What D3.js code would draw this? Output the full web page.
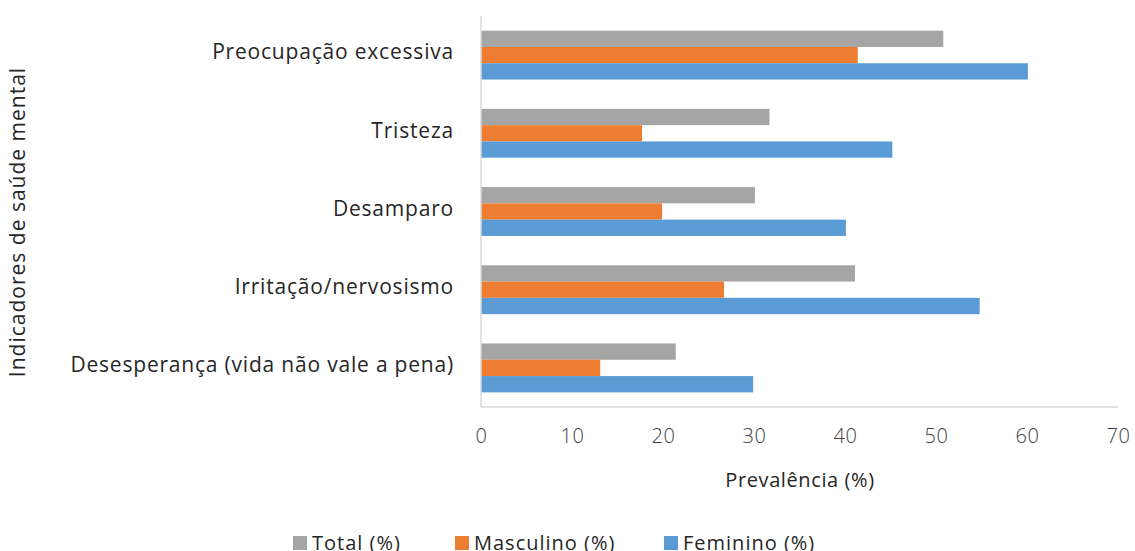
<!DOCTYPE html>
<html>
<head>
<meta charset="utf-8">
<script src="https://cdn.jsdelivr.net/npm/d3@7"></script>
<style>
  html, body { margin: 0; padding: 0; background: #fff; }
  svg { display: block; font-family: "Open Sans", "Lato", sans-serif; }
</style>
</head>
<body>
<svg id="chart" width="1135" height="551"></svg>
<script>
// Mental health indicators, prevalence by sex
const categories = [
  "Preocupação excessiva",
  "Tristeza",
  "Desamparo",
  "Irritação/nervosismo",
  "Desesperança (vida não vale a pena)"
];
const seriesNames = ["Total (%)", "Masculino (%)", "Feminino (%)"];
const totalValues     = [50.8, 31.7, 30.1, 41.1, 21.4];
const masculinoValues = [41.4, 17.7, 19.9, 26.7, 13.1];
const femininoValues  = [60.1, 45.2, 40.1, 54.8, 29.9];
const xTicks = [0, 10, 20, 30, 40, 50, 60, 70];
const colors = ["#A5A5A5", "#ED7D31", "#5B9BD5"];

const seriesValues = [totalValues, masculinoValues, femininoValues];
const rows = categories.map((c, i) => ({
  category: c,
  values: seriesValues.map((vals, s) => ({ series: seriesNames[s], value: vals[i], s }))
}));

const svg = d3.select("#chart");
const plot = { left: 481, right: 1118, top: 16, bottom: 407 };

const x = d3.scaleLinear().domain([0, 70]).range([plot.left, plot.right]);
const y = d3.scaleBand().domain(categories).range([plot.top, plot.bottom]).paddingInner(0.375).paddingOuter(0.1875);
const ySub = d3.scaleBand().domain(d3.range(seriesNames.length)).range([0, y.bandwidth()]);

// Bars
const groups = svg.append("g").selectAll("g")
  .data(rows).join("g")
  .attr("transform", d => `translate(0,${y(d.category)})`);
groups.selectAll("rect")
  .data(d => d.values).join("rect")
  .attr("x", x(0))
  .attr("y", d => ySub(d.s))
  .attr("height", ySub.bandwidth())
  .attr("width", d => x(d.value) - x(0))
  .attr("fill", d => colors[d.s]);

// Axis lines
svg.append("line")
  .attr("x1", x(0)).attr("x2", x(0))
  .attr("y1", plot.top).attr("y2", plot.bottom)
  .attr("stroke", "#D9D9D9").attr("stroke-width", 1.5);
svg.append("line")
  .attr("x1", x(0)).attr("x2", plot.right)
  .attr("y1", plot.bottom).attr("y2", plot.bottom)
  .attr("stroke", "#D9D9D9").attr("stroke-width", 1.5);

// X axis tick labels
const xAxis = d3.axisBottom(x).tickValues(xTicks).tickSize(0).tickPadding(0);
const gx = svg.append("g").attr("transform", `translate(0,${plot.bottom})`).call(xAxis);
gx.select(".domain").remove();
gx.selectAll("text")
  .attr("y", 36).attr("dy", 0)
  .attr("font-size", 20)
  .attr("font-family", "Open Sans, sans-serif")
  .attr("font-weight", 300)
  .attr("letter-spacing", 0.5)
  .attr("fill", "#404040");

// Y axis category labels
const yAxis = d3.axisLeft(y).tickSize(0).tickPadding(0);
const gy = svg.append("g").attr("transform", `translate(454,0)`).call(yAxis);
gy.select(".domain").remove();
gy.selectAll("text")
  .attr("dy", "0.2em")
  .attr("font-size", 21)
  .attr("font-family", "Open Sans, sans-serif")
  .attr("letter-spacing", 0.8)
  .attr("fill", "#262626");

// Axis titles
svg.append("text")
  .attr("x", 800).attr("y", 487)
  .attr("text-anchor", "middle")
  .attr("font-size", 20)
  .attr("font-weight", 500)
  .attr("letter-spacing", 0.6)
  .attr("fill", "#262626")
  .text("Prevalência (%)");
svg.append("text")
  .attr("transform", "translate(25,222) rotate(-90)")
  .attr("text-anchor", "middle")
  .attr("font-size", 21)
  .attr("letter-spacing", 1.0)
  .attr("fill", "#262626")
  .text("Indicadores de saúde mental");

// Legend
const legendX = [293, 455, 664];
const legend = svg.append("g").selectAll("g")
  .data(seriesNames).join("g")
  .attr("transform", (d, i) => `translate(${legendX[i]},536)`);
legend.append("rect")
  .attr("width", 14).attr("height", 14)
  .attr("fill", (d, i) => colors[i]);
legend.append("text")
  .attr("x", 19).attr("y", 14)
  .attr("font-size", 20)
  .attr("letter-spacing", 1.0)
  .attr("fill", "#262626")
  .text(d => d);
</script>
</body>
</html>
